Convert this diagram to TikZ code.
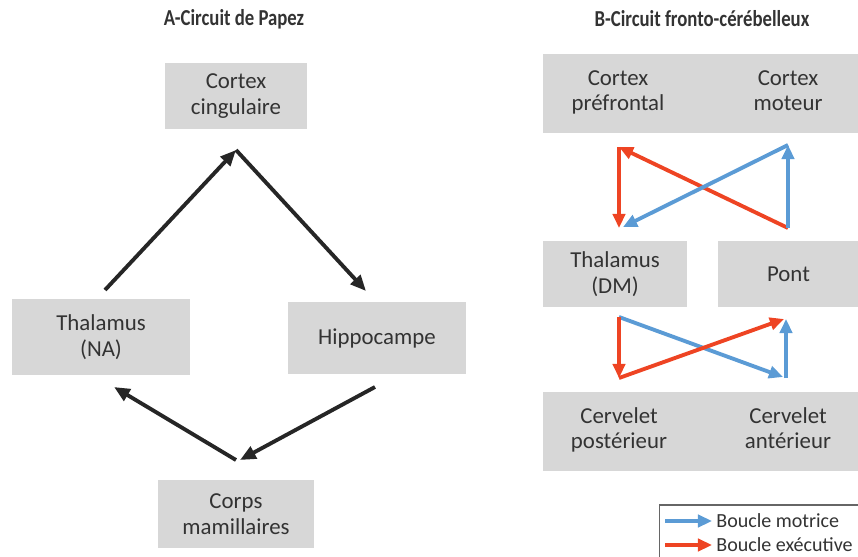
\documentclass[tikz,border=0pt]{standalone}
\usepackage{fontspec}
\setmainfont{Carlito}
\newfontfamily\titlefont[FakeStretch=0.82]{Carlito}
\usetikzlibrary{arrows.meta}
\definecolor{boxgray}{HTML}{D7D7D7}
\definecolor{motblue}{HTML}{5B9BD5}
\definecolor{exered}{HTML}{EE4423}
\definecolor{txtgray}{HTML}{333333}
\tikzset{
  region/.style={fill=boxgray, inner sep=0pt, align=center, text=txtgray,
    font=\fontsize{13}{14.5}\selectfont},
  label text/.style={inner sep=0pt, align=center, text=txtgray,
    font=\fontsize{13}{14.5}\selectfont},
  legend text/.style={inner sep=0pt, anchor=west, text=txtgray,
    font=\fontsize{11.4}{13}\selectfont},
  title text/.style={inner sep=0pt, text=txtgray, font=\titlefont\bfseries\fontsize{13}{14}\selectfont},
  papez/.style={line width=2.2pt, draw=black!85, -{Triangle[length=9pt,width=7.5pt]}},
  motor/.style={line width=2.2pt, draw=motblue, -{Triangle[length=8pt,width=7pt]}},
  exec/.style={line width=2.2pt, draw=exered, -{Triangle[length=8pt,width=7pt]}},
}
\begin{document}
\begin{tikzpicture}[x=0.02cm, y=-0.02cm]
  \useasboundingbox (0,0) rectangle (858,557);

  % titles
  \node[title text] (titleA) at (234,19) {A-Circuit de Papez};
  \node[title text] (titleB) at (702,19) {B-Circuit fronto-cérébelleux};

  % A: Papez circuit
  \node[region, minimum width=2.84cm, minimum height=1.34cm] (cing) at (236,96) {Cortex\\cingulaire};
  \node[region, minimum width=3.56cm, minimum height=1.54cm] (thalNA) at (101,337) {Thalamus\\(NA)};
  \node[region, minimum width=3.56cm, minimum height=1.46cm] (hippo) at (377,338) {Hippocampe};
  \node[region, minimum width=3.14cm, minimum height=1.36cm] (mamil) at (236,514) {Corps\\mamillaires};

  \coordinate (cingIn) at (236,150);
  \coordinate (thalOut) at (105,290);
  \coordinate (hippoIn) at (366,291);
  \coordinate (hippoOut) at (375,387);
  \coordinate (mamilIn) at (240,460);
  \coordinate (mamilOut) at (236,460);
  \coordinate (thalIn) at (114,387);

  \draw[papez] (thalOut) -- (cingIn);
  \draw[papez] (cingIn) -- (hippoIn);
  \draw[papez] (hippoOut) -- (mamilIn);
  \draw[papez] (mamilOut) -- (thalIn);

  % B: fronto-cerebellar circuit
  \node[region, minimum width=6.3cm, minimum height=1.58cm] (cortexB) at (700.5,93.5) {};
  \node[label text] (prefront) at (618,93) {\strut Cortex\\préfrontal\strut};
  \node[label text] (moteur) at (788,93) {\strut Cortex\\moteur\strut};
  \node[region, minimum width=2.88cm, minimum height=1.32cm] (thalDM) at (615,274) {Thalamus\\(DM)};
  \node[region, minimum width=2.82cm, minimum height=1.32cm] (pont) at (788.5,274) {Pont};
  \node[region, minimum width=6.3cm, minimum height=1.58cm] (cervB) at (700.5,431.5) {};
  \node[label text] (cervPost) at (619,431) {\strut Cervelet\\postérieur\strut};
  \node[label text] (cervAnt) at (788,431) {\strut Cervelet\\antérieur\strut};

  % upper loop
  \coordinate (pfTop) at (619,147);
  \coordinate (pfBot) at (619,228);
  \coordinate (ptTop) at (788,145);
  \coordinate (ptBot) at (788,228);
  \draw[exec] (ptBot) -- (pfTop);
  \draw[exec] (pfTop) -- (pfBot);
  \draw[motor] (ptBot) -- (ptTop);
  \draw[motor] (ptTop) -- (623,227);

  % lower loop
  \coordinate (thTop) at (619,317);
  \coordinate (thBot) at (619,378);
  \coordinate (ceTop) at (786,319);
  \coordinate (ceBot) at (786,378);
  \draw[motor] (thTop) -- (783,377);
  \draw[motor] (ceBot) -- (ceTop);
  \draw[exec] (thTop) -- (thBot);
  \draw[exec] (thBot) -- (784,319);

  % legend
  \node[draw=black!60, line width=0.8pt, minimum width=4.1cm, minimum height=1.2cm,
    inner sep=0pt] (legend) at (762,535) {};
  \coordinate (motA) at (665,521);
  \coordinate (motB) at (712,521);
  \coordinate (exeA) at (665,545);
  \coordinate (exeB) at (712,545);
  \draw[motor, line width=2.5pt] (motA) -- (motB);
  \draw[exec, line width=2.5pt] (exeA) -- (exeB);
  \node[legend text] (motText) at (716,521) {Boucle motrice};
  \node[legend text] (exeText) at (716,545) {Boucle exécutive};
\end{tikzpicture}
\end{document}
